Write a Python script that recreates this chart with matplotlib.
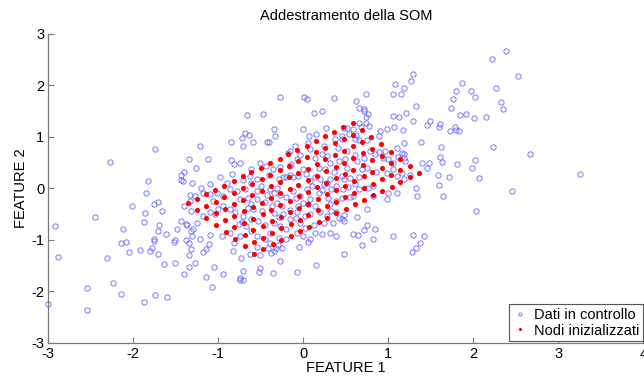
import matplotlib
matplotlib.use("Agg")
import matplotlib.pyplot as plt
import numpy as np

plt.rcParams['font.family'] = ['Liberation Sans', 'DejaVu Sans']
plt.rcParams['axes.unicode_minus'] = False

# ---------------- data: "Dati in controllo" ----------------
# upper middle
ctrl_a_x = [-0.27, 0.01, 0.04, 0.36, -0.66, -0.47, 0.12, 0.22, -0.69, -0.64,
            -0.34, 0.00, 0.27, -0.33, 0.07, 0.15, -0.72]
ctrl_a_y = [1.77, 1.77, 1.73, 1.75, 1.42, 1.44, 1.46, 1.50, 1.07, 1.03,
            1.16, 1.16, 1.17, 1.01, 1.02, 1.05, 0.98]
# upper right
ctrl_b_x = [2.22, 1.29, 1.27, 1.08, 1.19, 1.06, 1.15, 0.74, 1.87, 1.80,
            1.97, 2.02, 1.76, 0.62, 1.33, 1.74, 0.66, 0.71, 0.71, 0.76,
            0.74, 1.21, 1.13, 1.05, 1.29, 1.49, 1.46, 1.61, 1.60, 1.84,
            1.91, 2.01, 2.15, 0.66, 0.74, 0.68, 0.77, 1.07, 0.98, 0.90,
            1.17, 0.89, 1.73, 1.78, 1.80, 1.83, 0.48, 0.51, 0.59, 0.62,
            0.54]
ctrl_b_y = [2.52, 2.21, 2.08, 2.02, 1.95, 1.84, 1.83, 1.83, 2.04, 1.88,
            1.88, 1.77, 1.74, 1.70, 1.60, 1.55, 1.55, 1.53, 1.50, 1.44,
            1.39, 1.46, 1.38, 1.40, 1.31, 1.31, 1.22, 1.24, 1.18, 1.42,
            1.44, 1.37, 1.38, 1.26, 1.27, 1.19, 1.20, 1.18, 1.15, 1.11,
            1.13, 1.02, 1.11, 1.18, 1.13, 1.11, 1.17, 1.17, 1.15, 1.03,
            1.05]
ctrl_c_x = [2.38, 2.53, 2.27, 2.32, 2.35]
ctrl_c_y = [2.67, 2.19, 1.95, 1.68, 1.53]
# left
ctrl_d_x = [-1.74, -2.27, -1.34, -1.40, -1.44, -1.44, -1.42, -1.83, -1.85, -1.71,
            -1.76, -2.01, -1.33, -1.40, -1.32, -1.66, -1.86, -2.45, -2.92, -1.87,
            -1.70, -2.12, -1.71, -1.61, -1.49, -1.44, -1.38, -1.37, -1.76, -1.76,
            -1.51, -1.52, -1.38, -2.15, -2.09, -1.32]
ctrl_d_y = [0.76, 0.51, 0.56, 0.31, 0.25, 0.16, 0.15, 0.15, -0.09, -0.27,
            -0.31, -0.34, -0.13, -0.35, -0.44, -0.45, -0.49, -0.56, -0.74, -0.66,
            -0.71, -0.80, -0.84, -0.89, -0.80, -0.63, -0.69, -0.71, -0.99, -1.03,
            -1.00, -1.04, -1.00, -1.06, -1.04, -0.83]
# lower left
ctrl_e_x = [-2.89, -2.31, -2.05, -1.92, -1.78, -1.80, -1.71, -1.35, -1.35, -1.32,
            -1.64, -1.51, -1.35, -1.40, -2.24, -2.54, -2.15, -1.75, -1.60, -1.87,
            -3.00, -2.54]
ctrl_e_y = [-1.33, -1.35, -1.24, -1.20, -1.17, -1.22, -1.27, -1.06, -1.30, -1.18,
            -1.48, -1.45, -1.53, -1.67, -1.85, -1.94, -2.06, -2.07, -2.12, -2.20,
            -2.24, -2.36]
# lower middle
ctrl_f_x = [-1.11, -1.14, -1.18, -0.83, -0.73, -0.63, -0.55, -0.51, -0.41, -0.38,
            -0.35, -0.32, -0.25, -0.30, -0.05, 0.06, -1.28, -1.05, -0.95, -1.15,
            -1.07, -0.71, -0.75, -0.74, -0.71, -0.51, -0.52, -0.36, -0.28, -0.07,
            0.15]
ctrl_f_y = [-1.09, -1.18, -1.24, -1.22, -1.35, -1.28, -1.14, -1.30, -1.17, -1.26,
            -1.22, -1.17, -1.16, -1.10, -1.15, -1.05, -1.45, -1.53, -1.67, -1.73,
            -1.91, -1.61, -1.75, -1.79, -1.79, -1.55, -1.63, -1.64, -1.41, -1.63,
            -1.50]
ctrl_g_x = [0.69, 0.48, 1.28, 1.33, 1.37]
ctrl_g_y = [-1.11, -1.28, -1.24, -1.17, -1.06]
ctrl_h_x = [2.23, 2.67, 3.25, 2.45]
ctrl_h_y = [0.80, 0.66, 0.27, -0.06]
# centre right
ctrl_i_x = [0.46, 0.61, 0.75, 0.65, 1.10, 1.19, 1.39, 1.62, 1.61, 1.63,
            1.81, 2.02, 1.99, 2.07, 1.40, 1.48, 1.46, 1.71, 1.59, 1.60,
            1.33, 1.34, 1.64, 2.03, 0.89, 0.96, 0.94, 1.00, 1.05, 1.11,
            1.16, 1.19, 1.18, 1.20, 0.84, 0.78, 0.71, 0.51, 0.61, 0.63,
            0.69, 0.75, 0.51, 0.49, 0.86, 0.98, 1.05, 1.10, 1.18, 1.16,
            1.26, 0.45, 0.48, 0.55, 0.65, 0.61, 0.53, 0.47, 0.65, 0.76,
            0.82, 1.00, 1.10, 0.98, 0.82, 0.58, 0.55, 0.45, 0.75, 0.63,
            0.48, 0.46, 0.48, 0.75, 0.84, 0.71, 0.59, 0.64, 0.82, 1.06,
            1.29, 1.42]
ctrl_i_y = [0.96, 0.95, 0.93, 0.94, 0.79, 0.87, 0.90, 0.81, 0.61, 0.51,
            0.47, 0.55, 0.39, 0.19, 0.49, 0.49, 0.39, 0.22, 0.25, 0.06,
            0.00, -0.16, -0.16, -0.45, 0.70, 0.72, 0.59, 0.57, 0.50, 0.61,
            0.68, 0.66, 0.58, 0.53, 0.66, 0.72, 0.59, 0.72, 0.64, 0.53,
            0.38, 0.40, 0.40, 0.56, 0.32, 0.30, 0.37, 0.24, 0.17, 0.29,
            0.25, 0.24, 0.17, 0.19, 0.21, 0.08, 0.03, -0.02, -0.02, 0.01,
            0.04, -0.10, -0.10, -0.21, -0.15, -0.15, -0.17, -0.18, -0.40, -0.55,
            -0.52, -0.60, -0.64, -0.72, -0.80, -0.82, -0.88, -0.91, -0.99, -0.93,
            -0.91, -0.93]
# centre
ctrl_j_x = [-1.22, -0.85, -0.71, -0.59, -0.43, -0.40, -0.16, -0.18, -0.10, 0.05,
            0.24, 0.37, 0.41, 0.45, -1.12, -1.26, -0.85, -0.82, -0.74, -0.61,
            -0.51, -0.44, -0.36, -0.27, -0.16, -0.14, -0.08, -0.04, 0.08, 0.14,
            0.22, 0.28, 0.31, 0.42, 0.18, 0.26, 0.36, 0.00, -1.31, -0.84,
            -0.71, -0.61, -0.55, -0.40, -0.29, -0.24, -0.20, -0.16, -0.12, -0.06,
            0.03, 0.08, 0.14, 0.20, 0.24, 0.28, 0.31, 0.39, 0.33, -0.31,
            -0.39, -0.50, -0.43, -0.35, -0.12, -0.09, -0.04, -0.20, -0.27, 0.04,
            0.10, 0.18, 0.22, 0.06, 0.00, -0.06, 0.08, 0.29, 0.39, 0.31,
            0.33, 0.38, 0.28, 0.20, 0.14, 0.24, 0.35, 0.42, 0.08, 0.02,
            -0.08, -0.16, -0.25, -0.31, -0.37, -0.45, -0.55, -0.61, -0.65, -0.59,
            -0.49, -0.35, -0.29, -0.24, -0.16, -0.09, -0.04, 0.02, 0.12, 0.14,
            0.22, 0.31, 0.39, 0.08, 0.00, -0.08, -0.20, -0.27, -0.35, -0.39,
            -0.45, -0.53, -0.61, -0.71, -0.80, -0.86, -0.94, -1.00, -1.04, -1.10,
            -1.18, -1.25, -1.30, -1.31, -1.22, -1.10, -0.96, -0.86, -0.76, -0.72,
            -0.67, -0.61, -0.55, -0.45, -0.29, -0.20, -0.39, -0.74, -0.82, -0.94,
            -1.06, -1.10, -1.02, -1.18, -1.27, -1.33, -0.86, -0.78, -0.69, -0.74,
            -0.65, -0.55, -0.63, -0.90, -0.98, -1.10, -1.20]
ctrl_j_y = [0.83, 0.89, 0.82, 0.90, 0.90, 0.90, 0.72, 0.68, 0.83, 0.87,
            0.82, 0.95, 0.78, 1.02, 0.56, 0.40, 0.54, 0.47, 0.50, 0.37,
            0.50, 0.43, 0.37, 0.42, 0.43, 0.47, 0.57, 0.64, 0.76, 0.59,
            0.66, 0.63, 0.50, 0.53, 0.40, 0.37, 0.32, 0.37, 0.11, 0.27,
            0.16, 0.10, 0.17, 0.25, 0.17, 0.21, 0.21, 0.25, 0.21, 0.23,
            0.27, 0.14, 0.21, 0.17, 0.08, 0.11, 0.17, 0.04, -0.01, 0.01,
            -0.02, 0.04, -0.14, -0.09, -0.05, -0.18, -0.15, -0.17, -0.14, -0.02,
            0.04, -0.09, -0.04, -0.31, -0.28, -0.34, -0.21, -0.19, -0.25, -0.31,
            -0.44, -0.47, -0.54, -0.47, -0.34, -0.67, -0.68, -0.57, -0.50, -0.54,
            -0.47, -0.42, -0.34, -0.28, -0.34, -0.27, -0.21, -0.31, -0.38, -0.41,
            -0.44, -0.49, -0.55, -0.50, -0.60, -0.57, -0.68, -0.77, -0.72, -0.86,
            -0.89, -0.86, -0.93, -0.99, -0.93, -0.86, -0.80, -0.73, -0.68, -0.86,
            -0.72, -0.63, -0.60, -0.54, -0.47, -0.40, -0.34, -0.41, -0.50, -0.47,
            -0.54, -0.67, -0.80, -0.93, -0.99, -0.91, -0.93, -0.86, -0.70, -0.65,
            -0.73, -0.83, -0.93, -0.99, -0.96, -0.99, -1.06, -0.93, -1.06, -0.15,
            -0.25, -0.12, -0.09, -0.09, -0.15, -0.25, -0.02, -0.05, -0.02, -0.21,
            -0.18, -0.05, 0.24, 0.11, 0.21, 0.08, 0.01]

# ---------------- data: "Nodi inizializzati" (8 rows x 19 nodes) ----------------
node_x_rows = [
    [-1.36, -1.25, -1.14, -1.04, -0.93, -0.82, -0.71, -0.61, -0.50, -0.39, -0.28, -0.18, -0.07, 0.04, 0.15, 0.26, 0.36, 0.47, 0.58],
    [-1.25, -1.14, -1.03, -0.93, -0.82, -0.71, -0.60, -0.49, -0.39, -0.28, -0.17, -0.06, 0.04, 0.15, 0.26, 0.37, 0.48, 0.58, 0.69],
    [-1.14, -1.03, -0.92, -0.81, -0.71, -0.60, -0.49, -0.38, -0.28, -0.17, -0.06, 0.05, 0.16, 0.26, 0.37, 0.48, 0.59, 0.69, 0.80],
    [-1.03, -0.92, -0.81, -0.70, -0.59, -0.49, -0.38, -0.27, -0.16, -0.06, 0.05, 0.16, 0.27, 0.38, 0.48, 0.59, 0.70, 0.81, 0.91],
    [-0.91, -0.81, -0.70, -0.59, -0.48, -0.38, -0.27, -0.16, -0.05, 0.06, 0.16, 0.27, 0.38, 0.49, 0.59, 0.70, 0.81, 0.92, 1.03],
    [-0.80, -0.69, -0.59, -0.48, -0.37, -0.26, -0.16, -0.05, 0.06, 0.17, 0.28, 0.38, 0.49, 0.60, 0.71, 0.81, 0.92, 1.03, 1.14],
    [-0.69, -0.58, -0.48, -0.37, -0.26, -0.15, -0.04, 0.06, 0.17, 0.28, 0.39, 0.49, 0.60, 0.71, 0.82, 0.93, 1.03, 1.14, 1.25],
    [-0.58, -0.47, -0.36, -0.26, -0.15, -0.04, 0.07, 0.18, 0.28, 0.39, 0.50, 0.61, 0.71, 0.82, 0.93, 1.04, 1.14, 1.25, 1.36],
]
node_y_rows = [
    [-0.29, -0.21, -0.12, -0.03, 0.05, 0.14, 0.23, 0.31, 0.40, 0.49, 0.57, 0.66, 0.75, 0.83, 0.92, 1.01, 1.09, 1.18, 1.27],
    [-0.43, -0.35, -0.26, -0.17, -0.09, 0.00, 0.09, 0.17, 0.26, 0.35, 0.43, 0.52, 0.61, 0.70, 0.78, 0.87, 0.96, 1.04, 1.13],
    [-0.57, -0.49, -0.40, -0.31, -0.23, -0.14, -0.05, 0.04, 0.12, 0.21, 0.30, 0.38, 0.47, 0.56, 0.64, 0.73, 0.82, 0.90, 0.99],
    [-0.71, -0.62, -0.54, -0.45, -0.36, -0.28, -0.19, -0.10, -0.02, 0.07, 0.16, 0.24, 0.33, 0.42, 0.50, 0.59, 0.68, 0.76, 0.85],
    [-0.85, -0.76, -0.68, -0.59, -0.50, -0.42, -0.33, -0.24, -0.16, -0.07, 0.02, 0.10, 0.19, 0.28, 0.36, 0.45, 0.54, 0.62, 0.71],
    [-0.99, -0.90, -0.82, -0.73, -0.64, -0.56, -0.47, -0.38, -0.30, -0.21, -0.12, -0.04, 0.05, 0.14, 0.23, 0.31, 0.40, 0.49, 0.57],
    [-1.13, -1.04, -0.96, -0.87, -0.78, -0.69, -0.61, -0.52, -0.43, -0.35, -0.26, -0.17, -0.09, -0.00, 0.09, 0.17, 0.26, 0.35, 0.43],
    [-1.27, -1.18, -1.09, -1.01, -0.92, -0.83, -0.75, -0.66, -0.57, -0.49, -0.40, -0.31, -0.23, -0.14, -0.05, 0.03, 0.12, 0.21, 0.29],
]

x_ticks = [-3, -2, -1, 0, 1, 2, 3, 4]
y_ticks = [-3, -2, -1, 0, 1, 2, 3]
title_text = "Addestramento della SOM"
x_label = "FEATURE 1"
y_label = "FEATURE 2"
series_labels = ["Dati in controllo", "Nodi inizializzati"]

# ---------------- assemble ----------------
ctrl_x = np.concatenate([ctrl_a_x, ctrl_b_x, ctrl_c_x, ctrl_d_x, ctrl_e_x,
                         ctrl_f_x, ctrl_g_x, ctrl_h_x, ctrl_i_x, ctrl_j_x])
ctrl_y = np.concatenate([ctrl_a_y, ctrl_b_y, ctrl_c_y, ctrl_d_y, ctrl_e_y,
                         ctrl_f_y, ctrl_g_y, ctrl_h_y, ctrl_i_y, ctrl_j_y])
node_x = np.concatenate(node_x_rows)
node_y = np.concatenate(node_y_rows)

W, H = 644, 381
fig = plt.figure(figsize=(W / 100, H / 100), dpi=100)
left, right, top, bottom = 48.3, 643.3, 33.8, 342.7
ax = fig.add_axes([left / W, 1 - bottom / H, (right - left) / W, (bottom - top) / H])

ax.plot(ctrl_x, ctrl_y, linestyle='none', marker='o', markersize=3.8,
        markerfacecolor='none', markeredgecolor='#6e6eff', markeredgewidth=0.65,
        label=series_labels[0], clip_on=False, zorder=2)
ax.plot(node_x, node_y, linestyle='none', marker='o', markersize=3.7,
        color='#ff0000', markeredgewidth=0, label=series_labels[1],
        clip_on=False, zorder=3)

ax.set_xlim(-3, 4)
ax.set_ylim(-3, 3)
ax.set_xticks(x_ticks)
ax.set_yticks(y_ticks)
ax.set_xticklabels([str(t) for t in x_ticks])
ax.set_yticklabels([str(t) for t in y_ticks])

for s in ['top', 'right']:
    ax.spines[s].set_visible(False)
for s in ['left', 'bottom']:
    ax.spines[s].set_color('#7a7a7a')
    ax.spines[s].set_linewidth(0.9)
ax.tick_params(direction='in', length=4, width=0.8, color='#7a7a7a',
               labelsize=10.5, labelcolor='black', pad=3)

ax.set_title(title_text, fontsize=10.5, pad=10)
ax.set_xlabel(x_label, fontsize=10.5, labelpad=0)
ax.set_ylabel(y_label, fontsize=10.5, labelpad=2)

leg = ax.legend(loc='lower right', bbox_to_anchor=(1.0, 0.005), fontsize=10.5,
                fancybox=False, framealpha=1, edgecolor='#555555',
                handlelength=1.0, handletextpad=0.5, borderpad=0.25,
                labelspacing=0.12, borderaxespad=0.0, markerscale=0.6)
leg.get_frame().set_linewidth(0.8)

fig.savefig('out.png', dpi=100)
